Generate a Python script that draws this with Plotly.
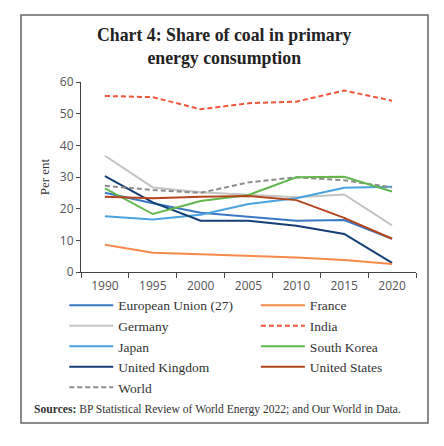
import plotly.graph_objects as go

years = ["1990", "1995", "2000", "2005", "2010", "2015", "2020"]

eu = [25.0, 21.7, 18.7, 17.5, 16.2, 16.4, 10.5]
france = [8.6, 6.1, 5.6, 5.1, 4.6, 3.8, 2.5]
germany = [36.7, 26.7, 25.2, 24.4, 23.6, 24.5, 14.7]
india = [55.6, 55.2, 51.4, 53.3, 53.8, 57.3, 54.1]
japan = [17.6, 16.6, 18.1, 21.5, 23.3, 26.6, 26.9]
south_korea = [26.4, 18.3, 22.4, 24.3, 29.9, 30.1, 25.4]
uk = [30.3, 22.0, 16.2, 16.2, 14.6, 12.0, 2.9]
us = [23.8, 23.3, 23.8, 24.0, 22.7, 17.1, 10.5]
world = [27.2, 25.9, 25.0, 28.3, 29.9, 29.0, 26.7]

series = [
    ("European Union (27)", eu, "#3a78c4", "solid", "legend"),
    ("Germany", germany, "#c4c4c4", "solid", "legend"),
    ("Japan", japan, "#4aa2de", "solid", "legend"),
    ("United Kingdom", uk, "#143f76", "solid", "legend"),
    ("World", world, "#8c8c8c", "5px,3px", "legend"),
    ("France", france, "#f7894a", "solid", "legend2"),
    ("India", india, "#f4543a", "5px,3px", "legend2"),
    ("South Korea", south_korea, "#62b74f", "solid", "legend2"),
    ("United States", us, "#b3461c", "solid", "legend2"),
]

fig = go.Figure()
for name, vals, color, dash, lg in series:
    fig.add_trace(go.Scatter(
        x=years, y=vals, mode="lines", name=name,
        line=dict(color=color, width=2, dash=dash),
        legend=lg,
    ))

serif = "Liberation Serif"
sans = "Open Sans"
legend_common = dict(
    orientation="v", xanchor="left", yanchor="top",
    font=dict(family=serif, size=13.5, color="#333"),
    bgcolor="rgba(0,0,0,0)", itemwidth=44, tracegroupgap=0,
)

fig.update_layout(
    width=444, height=446,
    margin=dict(l=81, r=28, t=82, b=174, autoexpand=False),
    paper_bgcolor="white", plot_bgcolor="white",
    showlegend=True,
    legend=dict(x=-0.05, y=-0.094, **legend_common),
    legend2=dict(x=0.522, y=-0.094, **legend_common),
    title=dict(
        text="<b>Chart 4: Share of coal in primary<br>energy consumption</b>",
        x=0.505, xref="container", xanchor="center",
        y=1 - 41 / 446, yref="container", yanchor="top",
        font=dict(family=serif, size=17.8, color="#222"),
    ),
    xaxis=dict(
        type="category", range=[-0.5, 6.5],
        showline=True, linecolor="#444", linewidth=1,
        ticks="outside", tickson="boundaries", ticklen=5, tickcolor="#444",
        showgrid=False, zeroline=False, ticklabelstandoff=3,
        tickfont=dict(family=sans, size=12, color="#555"),
    ),
    yaxis=dict(
        range=[0, 60], tickvals=[0, 10, 20, 30, 40, 50, 60],
        showline=True, linecolor="#444", linewidth=1,
        ticks="outside", ticklen=4, tickcolor="#444",
        showgrid=False, zeroline=False,
        tickfont=dict(family=sans, size=12, color="#555"),
        title=dict(text="Per ent", font=dict(family=serif, size=13, color="#333"), standoff=7),
    ),
    shapes=[dict(
        type="rect", xref="paper", yref="paper",
        x0=(21 - 81) / 335, x1=(428 - 81) / 335,
        y0=(272 - 423) / 190, y1=(272 - 15) / 190,
        line=dict(color="#666", width=1.5), fillcolor="rgba(0,0,0,0)",
        layer="below",
    )],
    annotations=[dict(
        text="<b>Sources:</b> BP Statistical Review of World Energy 2022; and Our World in Data.",
        xref="paper", yref="paper",
        x=(32 - 81) / 335, y=(272 - 409) / 190,
        xanchor="left", yanchor="middle", showarrow=False,
        font=dict(family=serif, size=11.6, color="#333"),
    )],
)

fig.write_html(
    "out.html",
    config={"displayModeBar": False},
    post_script="document.body.style.margin='0';",
)
